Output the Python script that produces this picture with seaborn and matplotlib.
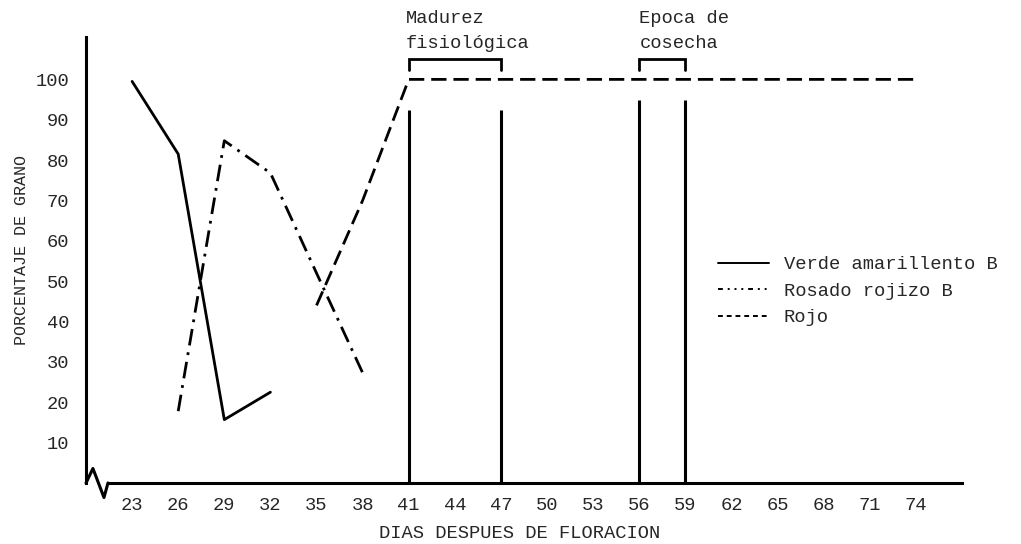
import matplotlib
matplotlib.use("Agg")
import matplotlib.pyplot as plt
from matplotlib.lines import Line2D
import seaborn as sns
import pandas as pd

# ---- data ----
dias_ticks = [23, 26, 29, 32, 35, 38, 41, 44, 47, 50, 53, 56, 59, 62, 65, 68, 71, 74]
pct_ticks = [10, 20, 30, 40, 50, 60, 70, 80, 90, 100]

verde_x = [23, 26, 29, 32]
verde_y = [99.5, 81.5, 15.7, 22.5]

rosado_x = [26, 29, 32, 35, 38]
rosado_y = [17.8, 84.8, 76.8, 52.0, 27.3]

rojo_x = [35, 38, 41, 44, 47, 50, 53, 56, 59, 62, 65, 68, 71, 74]
rojo_y = [44.0, 70.0, 100, 100, 100, 100, 100, 100, 100, 100, 100, 100, 100, 100]

madurez_dias = [41, 47]
madurez_alto = [92.3, 92.3]
cosecha_dias = [56, 59]
cosecha_alto = [95.0, 95.0]

labels = ["Verde amarillento B", "Rosado rojizo B", "Rojo"]

# ---- style ----
sns.set_theme(style="white")
plt.rcParams['font.family'] = ['Liberation Mono', 'DejaVu Sans Mono', 'DejaVu Sans']
FS = 13.5

fig = plt.figure(figsize=(10.21, 5.44), dpi=100)
ax = fig.add_axes([86/1021, 1-483/544, (962-86)/1021, (483-37)/544])

LW = 2.0
dash_rojo = (0, (5.5, 2.5))
dash_rosado = (0, (6, 2.5, 1, 2.5))

sns.lineplot(x=verde_x, y=verde_y, ax=ax, color="black", lw=LW, linestyle="-")
sns.lineplot(x=rosado_x, y=rosado_y, ax=ax, color="black", lw=LW, linestyle=dash_rosado)
sns.lineplot(x=rojo_x, y=rojo_y, ax=ax, color="black", lw=LW, linestyle=dash_rojo)

ax.vlines(madurez_dias, 0, madurez_alto, color="black", lw=2.2)
ax.vlines(cosecha_dias, 0, cosecha_alto, color="black", lw=2.2)

# brackets
for d in (madurez_dias, cosecha_dias):
    ax.plot([d[0], d[0], d[1], d[1]], [102.4, 105.0, 105.0, 102.4], color="black", lw=2.0,
            solid_joinstyle="miter")

ax.text(40.8, 112.0, "Madurez\nfisiológica", fontsize=FS, ha="left", va="center",
        linespacing=1.55, clip_on=False)
ax.text(56.0, 112.0, "Epoca de\ncosecha", fontsize=FS, ha="left", va="center",
        linespacing=1.55, clip_on=False)

# axes
ax.set_xlim(20, 77)
ax.set_ylim(0, 110.5)
ax.set_xticks(dias_ticks)
ax.set_xticklabels([str(v) for v in dias_ticks], fontsize=FS)
ax.set_yticks(pct_ticks)
ax.set_yticklabels([str(v) for v in pct_ticks], fontsize=FS)
ax.tick_params(axis="both", direction="in", length=9, width=2.0, color="black")
ax.tick_params(axis="y", pad=12)
ax.tick_params(axis="x", pad=10)

for s in ("top", "right"):
    ax.spines[s].set_visible(False)
for s in ("left", "bottom"):
    ax.spines[s].set_color("black")
    ax.spines[s].set_linewidth(2.2)
ax.spines["bottom"].set_bounds(21.43, 77)

# axis break squiggle
ax.plot([20, 20.45, 21.17, 21.43], [0, 3.6, -3.6, 0], color="black", lw=2.2, clip_on=False)

ax.set_xlabel("DIAS DESPUES DE FLORACION", fontsize=FS)
ax.xaxis.set_label_coords((520-86)/876, -(525-483)/446)
ax.set_ylabel("PORCENTAJE DE GRANO", fontsize=12)
ax.yaxis.set_label_coords((29-86)/876, (483-250)/446)

handles = [
    Line2D([], [], color="black", lw=1.4, linestyle="-"),
    Line2D([], [], color="black", lw=1.4, linestyle=(0, (2.5, 2.5, 1, 2.5, 1, 2.5, 1, 2.5))),
    Line2D([], [], color="black", lw=1.4, linestyle=(0, (2.5, 2))),
]
leg = fig.legend(handles, labels, loc="upper left", bbox_to_anchor=(718/1021, 1-256/544),
                 frameon=False, fontsize=FS, handlelength=2.7, handletextpad=0.8,
                 labelspacing=0.5, borderpad=0, borderaxespad=0)

fig.savefig("out.png", dpi=100)
